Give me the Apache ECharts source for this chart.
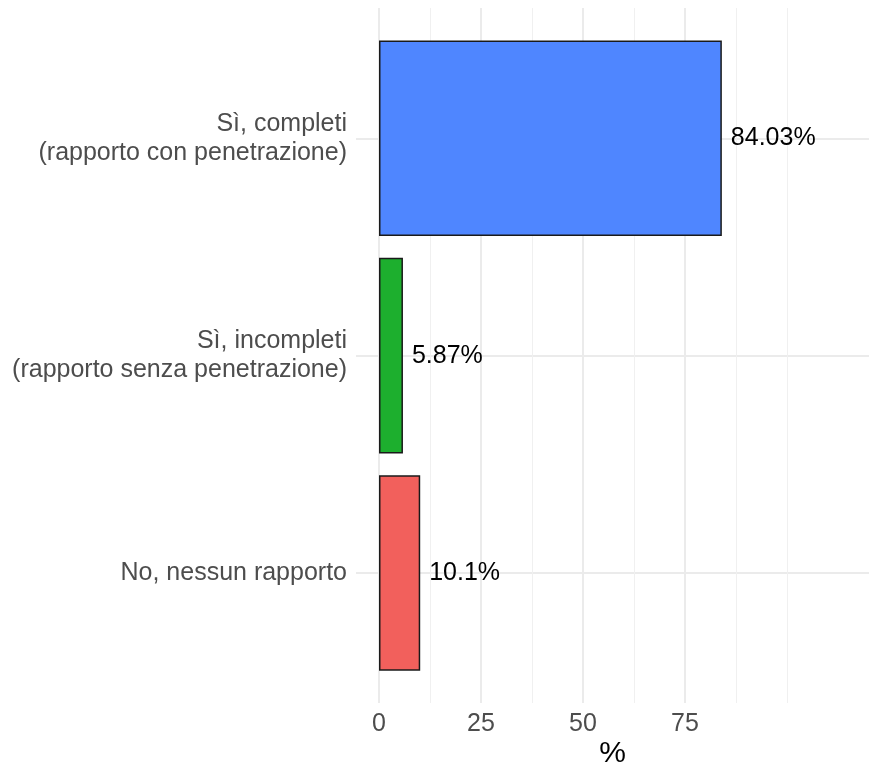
<!DOCTYPE html>
<html>
<head>
<meta charset="utf-8">
<script src="https://cdn.jsdelivr.net/npm/echarts@6/dist/echarts.min.js"></script>
<style>
html,body{margin:0;padding:0;background:#fff;}
#chart{width:869px;height:765px;}
</style>
</head>
<body>
<div id="chart"></div>
<script>
const categories = [
  "Sì, completi\n(rapporto con penetrazione)",
  "Sì, incompleti\n(rapporto senza penetrazione)",
  "No, nessun rapporto"
];
const values = [84.03, 5.87, 10.1];
const tickLabels = [0, 25, 50, 75];
const minorLines = [12.5, 37.5, 62.5, 87.5, 100];
const axisTitle = "%";
const palette = ["#4F86FF", "#1DAF2E", "#F2605C"];

const FONT = "Liberation Sans, Arial, Helvetica, sans-serif";
const chart = echarts.init(document.getElementById('chart'), null, {renderer: 'canvas'});

const CLEAR = 'rgba(0,0,0,0)';
const majorColors = [0, 25, 50, 75, 100, 125].map(v => tickLabels.includes(v) ? '#EBEBEB' : CLEAR);
const minorColors = [0, 12.5, 25, 37.5, 50, 62.5, 75, 87.5, 100, 112.5, 125].map(v => minorLines.includes(v) ? '#F0F0F0' : CLEAR);

chart.setOption({
  animation: false,
  backgroundColor: '#ffffff',
  textStyle: {fontFamily: FONT},
  grid: [
    {left: 379, right: -20, top: 8, bottom: 62, outerBoundsMode: 'none', containLabel: false},
    {left: 379, right: -20, top: 29.6, bottom: 83.3, outerBoundsMode: 'none', containLabel: false},
    {left: 356, right: 0, top: 138.3, bottom: 192, outerBoundsMode: 'none', containLabel: false}
  ],
  xAxis: [
    {
      type: 'value', gridIndex: 0, min: 0, max: 125, interval: 25,
      axisLine: {show: false}, axisTick: {show: false},
      axisLabel: {
        margin: 9, fontSize: 25, color: '#4D4D4D', fontFamily: FONT,
        formatter: v => tickLabels.includes(v) ? String(v) : ''
      },
      splitLine: {show: true, lineStyle: {color: majorColors, width: 2}}
    },
    {
      type: 'value', gridIndex: 1, min: 0, max: 125, show: false
    },
    {
      type: 'value', gridIndex: 2, min: 0, max: 1,
      axisLine: {show: false}, axisTick: {show: false}, axisLabel: {show: false},
      splitLine: {show: false},
      name: axisTitle, nameLocation: 'middle', nameGap: 166,
      nameTextStyle: {fontSize: 30, color: '#000000', fontFamily: FONT}
    },
    {
      type: 'value', gridIndex: 0, min: 0, max: 125, interval: 12.5,
      axisLine: {show: false}, axisTick: {show: false}, axisLabel: {show: false},
      splitLine: {show: true, lineStyle: {color: minorColors, width: 1}}
    }
  ],
  yAxis: [
    {type: 'category', gridIndex: 0, data: categories, show: false},
    {
      type: 'category', gridIndex: 1, data: categories, inverse: true,
      axisLine: {show: false}, axisTick: {show: false}, splitLine: {show: false},
      axisLabel: {
        margin: 32, fontSize: 25, lineHeight: 29, color: '#4D4D4D',
        fontFamily: FONT, align: 'right'
      }
    },
    {
      type: 'category', gridIndex: 2, data: categories, boundaryGap: false,
      axisLine: {show: false}, axisTick: {show: false}, axisLabel: {show: false},
      splitLine: {show: true, lineStyle: {color: '#EBEBEB', width: 2}}
    }
  ],
  series: [{
    type: 'bar',
    xAxisIndex: 1, yAxisIndex: 1,
    data: values,
    barCategoryGap: '10%',
    itemStyle: {
      color: p => palette[p.dataIndex],
      borderColor: '#1A1A1A', borderWidth: 1.5
    },
    label: {
      show: true, position: 'right', distance: 9,
      fontSize: 25, color: '#000000', fontFamily: FONT,
      formatter: p => p.value + '%'
    }
  }]
});
</script>
</body>
</html>
